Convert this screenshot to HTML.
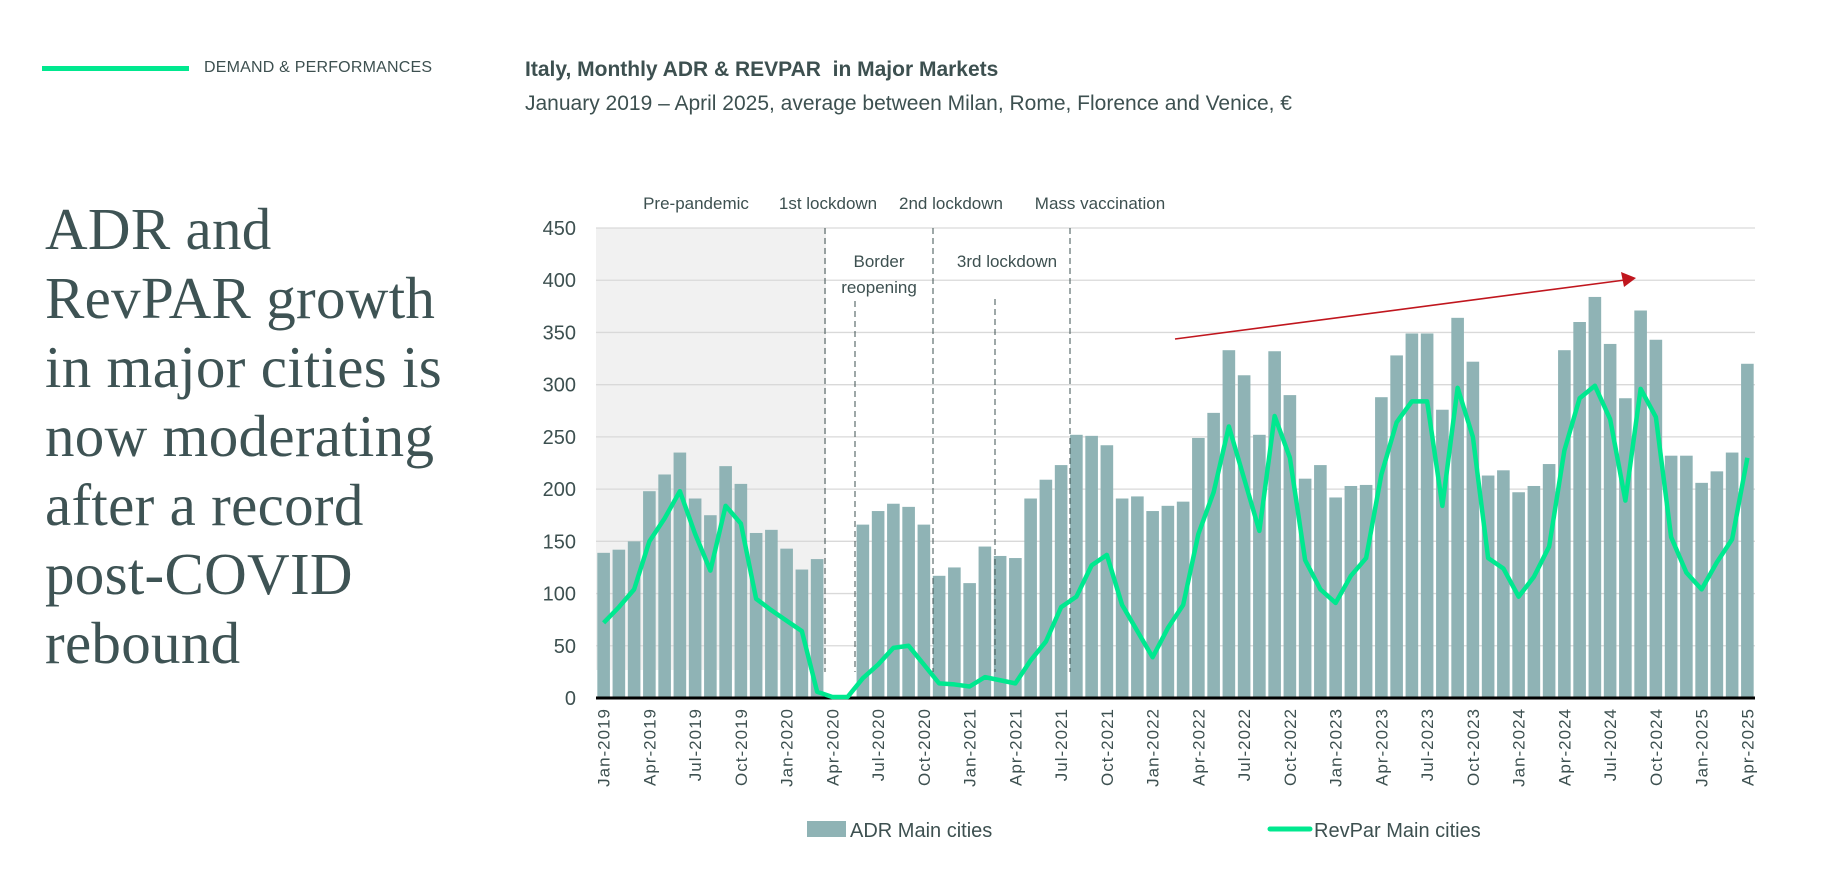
<!DOCTYPE html>
<html><head><meta charset="utf-8">
<style>
body{margin:0;width:1834px;height:888px;background:#fff;overflow:hidden;position:relative;font-family:"Liberation Sans",sans-serif;color:#3d5050}
.abs{position:absolute}
#headline{left:45px;top:195px;font-family:"Liberation Serif",serif;font-size:59px;line-height:69px;color:#3e5354;letter-spacing:0.3px;white-space:nowrap}
</style></head><body>
<div class="abs" style="left:42px;top:66px;width:147px;height:5px;background:#00e88f"></div>
<div class="abs" style="left:204px;top:59px;font-size:16px;letter-spacing:0.2px">DEMAND &amp; PERFORMANCES</div>
<div class="abs" style="left:525px;top:58px;font-size:21px;font-weight:bold">Italy, Monthly ADR &amp; REVPAR&nbsp; in Major Markets</div>
<div class="abs" style="left:525px;top:92px;font-size:21px">January 2019 – April 2025, average between Milan, Rome, Florence and Venice, €</div>
<div class="abs" id="headline">ADR and<br>RevPAR growth<br>in major cities is<br>now moderating<br>after a record<br>post-COVID<br>rebound</div>
<svg class="abs" style="left:0;top:0" width="1834" height="888" id="chart"></svg>
<script>
const months=['Jan','Feb','Mar','Apr','May','Jun','Jul','Aug','Sep','Oct','Nov','Dec'];
const categories=[];for(let y=2019;y<=2025;y++)for(let m=0;m<12;m++){if(y===2025&&m>3)break;categories.push(months[m]+'-'+y);}
const adrValues=[139,142,150,198,214,235,191,175,222,205,158,161,
143,123,133,0,0,166,179,186,183,166,117,125,
110,145,136,134,191,209,223,252,251,242,191,193,
179,184,188,249,273,333,309,252,332,290,210,223,
192,203,204,288,328,349,349,276,364,322,213,218,
197,203,224,333,360,384,339,287,371,343,232,232,
206,217,235,320];
const revparValues=[72,87,104,150,172,198,157,122,184,167,95,84,
74,64,6,1,1,19,32,48,50,32,14,13,
11,20,17,14,36,54,87,97,127,137,89,64,
39,67,89,157,197,260,210,160,270,230,132,104,
91,117,134,214,264,284,284,184,297,250,134,124,
97,116,145,237,287,299,267,189,296,269,154,120,
104,130,152,230];
const yTicks=[0,50,100,150,200,250,300,350,400,450];
const NS='http://www.w3.org/2000/svg';
const svg=document.getElementById('chart');
const X0=596,X1=1755,Y0=698,Y1=228,YMAX=450;
const band=(X1-X0)/categories.length;
const xs=i=>X0+band*i+band/2;
const ys=v=>Y0-(v/YMAX)*(Y0-Y1);
function mk(tag,attrs){const e=document.createElementNS(NS,tag);for(const k in attrs)e.setAttribute(k,attrs[k]);svg.appendChild(e);return e;}
let sh=mk('rect',{x:X0,y:Y1,width:826-X0,height:670-Y1,fill:'#f1f1f1'});


yTicks.forEach(t=>{
 if(t>0){const g=mk('line',{x1:X0,x2:X1,y1:ys(t),y2:ys(t),stroke:'#d9d9d9','stroke-width':1.3});
 
 }
 const tx=mk('text',{x:576,y:ys(t)+7,'text-anchor':'end','font-size':20,fill:'#3d5050'});tx.textContent=t;
 
 
});
adrValues.forEach((v,i)=>{
 if(v<=0)return;
 const b=mk('rect',{x:xs(i)-6.3,y:ys(v),width:12.6,height:Y0-ys(v),fill:'#8fb3b5'});
 
 
});
const ev=[[825,228],[855,301],[933,228],[995,299],[1070,228]];
ev.forEach(e=>{const l=mk('line',{x1:e[0],x2:e[0],y1:e[1],y2:672,stroke:'#3d5050','stroke-width':1,'stroke-dasharray':'6,4'});
 
 });
const labels=[['Pre-pandemic',696,209],['1st lockdown',828,209],['2nd lockdown',951,209],['Mass vaccination',1100,209],['Border',879,267],['reopening',879,293],['3rd lockdown',1007,267]];
labels.forEach(a=>{const t=mk('text',{x:a[1],y:a[2],'text-anchor':'middle','font-size':17,fill:'#3d5050'});t.textContent=a[0];
 
 });
const ax=mk('line',{x1:X0,x2:X1,y1:Y0,y2:Y0,stroke:'#000','stroke-width':3});


const pl=mk('polyline',{points:revparValues.map((v,i)=>xs(i)+','+ys(v)).join(' '),fill:'none',stroke:'#00e88f','stroke-width':4.5,'stroke-linejoin':'round'});


categories.forEach((c,i)=>{if(i%3)return;
 const t=mk('text',{x:0,y:0,'text-anchor':'end','font-size':17,fill:'#3d5050','letter-spacing':'1',transform:`translate(${xs(i)+6},${708}) rotate(-90)`});t.textContent=c;
 
 });
const ar=mk('line',{x1:1175,y1:339,x2:1625,y2:280,stroke:'#c0161e','stroke-width':1.6});


const ah=mk('polygon',{points:'1636,278 1621,272 1624,287',fill:'#c0161e'});


const lr=mk('rect',{x:807,y:821,width:39,height:16,fill:'#8fb3b5'});


const lt=mk('text',{x:850,y:837,'font-size':20,fill:'#3d5050'});lt.textContent='ADR Main cities';


const ll=mk('line',{x1:1270,x2:1310,y1:829,y2:829,stroke:'#00e88f','stroke-width':5,'stroke-linecap':'round'});


const lt2=mk('text',{x:1314,y:837,'font-size':20,fill:'#3d5050'});lt2.textContent='RevPar Main cities';


</script>
</body></html>
